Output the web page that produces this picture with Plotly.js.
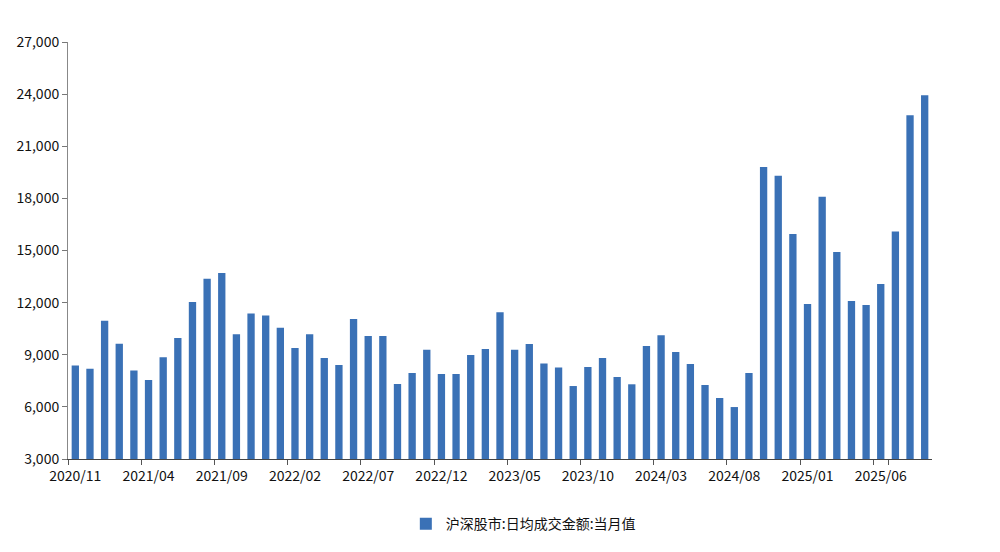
<!DOCTYPE html>
<html>
<head>
<meta charset="utf-8">
<script src="https://cdn.plot.ly/plotly-3.0.1.min.js"></script>
<style>html,body{margin:0;padding:0;background:#fff;}#chart{width:1000px;height:552px;}</style>
</head>
<body>
<div id="chart"></div>
<script>
const months = [
  "2020/11","2020/12","2021/01","2021/02","2021/03","2021/04","2021/05","2021/06","2021/07","2021/08",
  "2021/09","2021/10","2021/11","2021/12","2022/01","2022/02","2022/03","2022/04","2022/05","2022/06",
  "2022/07","2022/08","2022/09","2022/10","2022/11","2022/12","2023/01","2023/02","2023/03","2023/04",
  "2023/05","2023/06","2023/07","2023/08","2023/09","2023/10","2023/11","2023/12","2024/01","2024/02",
  "2024/03","2024/04","2024/05","2024/06","2024/07","2024/08","2024/09","2024/10","2024/11","2024/12",
  "2025/01","2025/02","2025/03","2025/04","2025/05","2025/06","2025/07","2025/08","2025/09"
];
const turnover = [
  8380, 8200, 10950, 9640, 8090, 7550, 8860, 9970, 12040, 13370,
  13710, 10180, 11370, 11260, 10550, 9390, 10180, 8820, 8410, 11060,
  10080, 10080, 7320, 7950, 9290, 7890, 7890, 8980, 9330, 11440,
  9290, 9620, 8500, 8260, 7200, 8290, 8810, 7720, 7300, 9500,
  10120, 9160, 8470, 7260, 6510, 5990, 7950, 19800, 19300, 15950,
  11920, 18100, 14910, 12090, 11860, 13070, 16100, 22790, 23930
];
const tickLabels = ["2020/11","2021/04","2021/09","2022/02","2022/07","2022/12","2023/05","2023/10","2024/03","2024/08","2025/01","2025/06"];
const seriesName = "沪深股市:日均成交金额:当月值";

const font = "'Noto Sans CJK SC', 'Noto Sans', sans-serif";
Plotly.newPlot("chart", [{
  type: "bar",
  x: months,
  y: turnover,
  name: seriesName,
  marker: {color: "#3a71b6"},
  showlegend: true
}], {
  width: 1000, height: 552,
  margin: {l: 68, r: 68, t: 42, b: 93},
  paper_bgcolor: "#fff", plot_bgcolor: "#fff",
  bargap: 0.5,
  font: {family: font, size: 14, color: "#111"},
  xaxis: {
    type: "category",
    automargin: false,
    tickmode: "array",
    tickvals: tickLabels,
    ticktext: tickLabels,
    tickson: "boundaries",
    tickangle: 0,
    ticks: "outside", ticklen: 5, tickcolor: "#555",
    ticklabelstandoff: 4,
    showline: true, linecolor: "#444", linewidth: 1,
    showgrid: false, zeroline: false,
    tickfont: {family: font, size: 14, color: "#111"}
  },
  yaxis: {
    automargin: false,
    range: [3000, 27000],
    tickmode: "linear", tick0: 3000, dtick: 3000,
    tickformat: ",d",
    ticks: "outside", ticklen: 5, tickcolor: "#777",
    showline: true, linecolor: "#888", linewidth: 1,
    showgrid: false, zeroline: false,
    tickfont: {family: font, size: 14, color: "#111"}
  },
  showlegend: true,
  legend: {
    orientation: "h", x: 0.527, xanchor: "center", y: -0.118, yanchor: "top",
    font: {family: font, size: 14, color: "#111"}
  }
}, {displayModeBar: false});
</script>
</body>
</html>
